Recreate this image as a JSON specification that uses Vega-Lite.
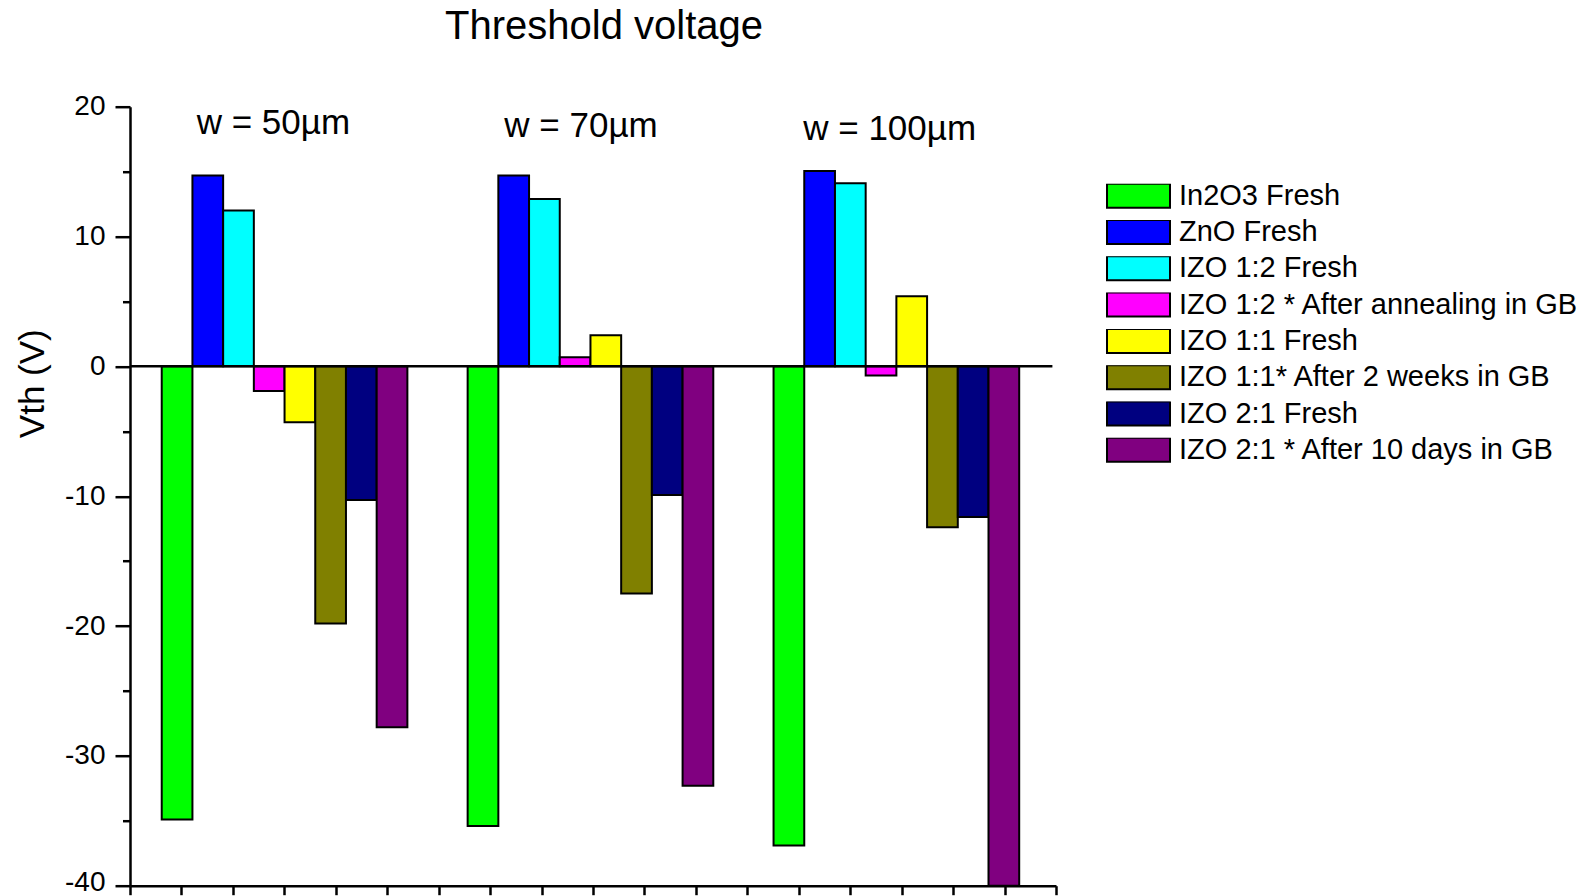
{
  "$schema": "https://vega.github.io/schema/vega-lite/v6.json",
  "width": 926,
  "height": 779,
  "autosize": {"type": "none"},
  "padding": {"left": 130, "top": 106.7, "right": 538, "bottom": 10.3},
  "background": "white",
  "title": {"text": "Threshold voltage", "fontSize": 40, "fontWeight": "normal", "font": "Liberation Sans", "color": "black", "anchor": "middle", "frame": "group", "baseline": "alphabetic", "offset": 14, "dx": 11},
  "config": {"view": {"stroke": null}, "font": "Liberation Sans"},
  "layer": [
    {
      "data": {"values": [
        {"w": "50", "sample": "In2O3 Fresh", "vth": -34.9},
        {"w": "50", "sample": "ZnO Fresh", "vth": 14.7},
        {"w": "50", "sample": "IZO 1:2 Fresh", "vth": 12.0},
        {"w": "50", "sample": "IZO 1:2 * After annealing in GB", "vth": -1.9},
        {"w": "50", "sample": "IZO 1:1 Fresh", "vth": -4.3},
        {"w": "50", "sample": "IZO 1:1* After 2 weeks in GB", "vth": -19.8},
        {"w": "50", "sample": "IZO 2:1 Fresh", "vth": -10.3},
        {"w": "50", "sample": "IZO 2:1 * After 10 days in GB", "vth": -27.8},
        {"w": "70", "sample": "In2O3 Fresh", "vth": -35.4},
        {"w": "70", "sample": "ZnO Fresh", "vth": 14.7},
        {"w": "70", "sample": "IZO 1:2 Fresh", "vth": 12.9},
        {"w": "70", "sample": "IZO 1:2 * After annealing in GB", "vth": 0.7},
        {"w": "70", "sample": "IZO 1:1 Fresh", "vth": 2.4},
        {"w": "70", "sample": "IZO 1:1* After 2 weeks in GB", "vth": -17.5},
        {"w": "70", "sample": "IZO 2:1 Fresh", "vth": -9.9},
        {"w": "70", "sample": "IZO 2:1 * After 10 days in GB", "vth": -32.3},
        {"w": "100", "sample": "In2O3 Fresh", "vth": -36.9},
        {"w": "100", "sample": "ZnO Fresh", "vth": 15.05},
        {"w": "100", "sample": "IZO 1:2 Fresh", "vth": 14.1},
        {"w": "100", "sample": "IZO 1:2 * After annealing in GB", "vth": -0.7},
        {"w": "100", "sample": "IZO 1:1 Fresh", "vth": 5.4},
        {"w": "100", "sample": "IZO 1:1* After 2 weeks in GB", "vth": -12.4},
        {"w": "100", "sample": "IZO 2:1 Fresh", "vth": -11.6},
        {"w": "100", "sample": "IZO 2:1 * After 10 days in GB", "vth": -40}
      ]},
      "mark": {"type": "bar", "stroke": "black", "strokeWidth": 2},
      "encoding": {
        "x": {"field": "w", "type": "nominal", "sort": ["50", "70", "100"], "scale": {"paddingInner": 0.197, "paddingOuter": 0.112, "align": 0.463}, "axis": null},
        "xOffset": {"field": "sample", "type": "nominal", "sort": ["In2O3 Fresh", "ZnO Fresh", "IZO 1:2 Fresh", "IZO 1:2 * After annealing in GB", "IZO 1:1 Fresh", "IZO 1:1* After 2 weeks in GB", "IZO 2:1 Fresh", "IZO 2:1 * After 10 days in GB"], "scale": {"paddingInner": 0, "paddingOuter": 0}},
        "y": {"field": "vth", "type": "quantitative", "scale": {"domain": [-40, 20], "nice": false, "zero": false},
          "axis": {"title": "Vth (V)", "values": [-40, -35, -30, -25, -20, -15, -10, -5, 0, 5, 10, 15, 20],
            "labelExpr": "datum.value % 10 === 0 ? '' + datum.value : ''",
            "tickSize": {"condition": {"test": "datum.value % 10 === 0", "value": 15}, "value": 7.5},
            "labelOffset": {"condition": {"test": "datum.value === -40", "value": -3.5}, "value": 0},
            "tickWidth": 2.5, "tickColor": "black", "domainColor": "black", "domainWidth": 2.5,
            "labelFontSize": 28, "labelColor": "black", "labelPadding": 10, "labelFlush": false, "labelOverlap": false, "grid": false,
            "titleFontSize": 35, "titleFontWeight": "normal", "titleColor": "black", "titleX": -87, "titleY": 276.5, "titleAngle": -90, "titleAlign": "center", "titleBaseline": "alphabetic"}},
        "color": {"field": "sample", "type": "nominal",
          "scale": {"domain": ["In2O3 Fresh", "ZnO Fresh", "IZO 1:2 Fresh", "IZO 1:2 * After annealing in GB", "IZO 1:1 Fresh", "IZO 1:1* After 2 weeks in GB", "IZO 2:1 Fresh", "IZO 2:1 * After 10 days in GB"],
            "range": ["#00FF00", "#0000FF", "#00FFFF", "#FF00FF", "#FFFF00", "#808000", "#000080", "#800080"]},
          "legend": {"title": null, "orient": "none", "legendX": 976, "legendY": 77, "labelFontSize": 29, "labelColor": "black",
            "symbolType": "M-1,-0.381H1V0.381H-1Z", "symbolSize": 3969, "symbolStrokeColor": "black", "symbolStrokeWidth": 2, "symbolOpacity": 1,
            "clipHeight": 24, "rowPadding": 7.3, "labelOffset": 8, "labelLimit": 600, "padding": 0}}
      }
    },
    {
      "data": {"values": [{}]},
      "layer": [
        {"mark": {"type": "rule", "stroke": "black", "strokeWidth": 2.5},
          "encoding": {
            "x": {"datum": 0, "type": "quantitative", "scale": {"domain": [0, 18], "nice": false, "zero": false},
              "axis": {"orient": "bottom", "values": [0, 1, 2, 3, 4, 5, 6, 7, 8, 9, 10, 11, 12, 13, 14, 15, 16, 17, 18], "labels": false, "ticks": true, "tickSize": 9, "tickWidth": 2.5, "tickColor": "black", "domainColor": "black", "domainWidth": 2.5, "title": null, "grid": false}},
            "x2": {"datum": 17.93},
            "y": {"datum": 0, "type": "quantitative"}
          }},
        {"mark": {"type": "text", "fontSize": 35, "baseline": "alphabetic", "align": "center", "dx": -11, "color": "black"},
          "encoding": {"x": {"datum": 3, "type": "quantitative"}, "y": {"datum": 17.9, "type": "quantitative"}, "text": {"value": "w = 50µm"}}},
        {"mark": {"type": "text", "fontSize": 35, "baseline": "alphabetic", "align": "center", "dx": -12, "color": "black"},
          "encoding": {"x": {"datum": 9, "type": "quantitative"}, "y": {"datum": 17.65, "type": "quantitative"}, "text": {"value": "w = 70µm"}}},
        {"mark": {"type": "text", "fontSize": 35, "baseline": "alphabetic", "align": "center", "dx": -12, "color": "black"},
          "encoding": {"x": {"datum": 15, "type": "quantitative"}, "y": {"datum": 17.45, "type": "quantitative"}, "text": {"value": "w = 100µm"}}}
      ]
    }
  ],
  "resolve": {"scale": {"x": "independent"}, "axis": {"x": "independent"}}
}
